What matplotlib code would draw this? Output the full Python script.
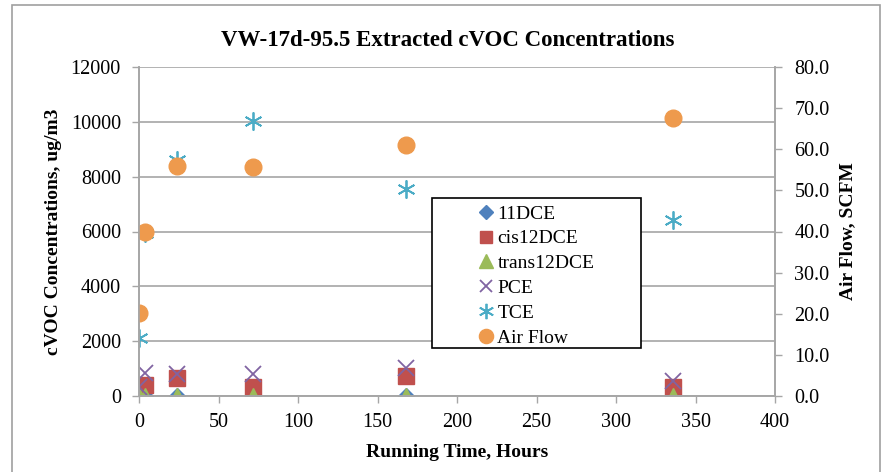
import matplotlib
matplotlib.use("Agg")
import matplotlib.pyplot as plt
from matplotlib.patches import Rectangle

plt.rcParams["font.family"] = ["Liberation Serif", "DejaVu Serif"]

hours = [0, 4, 24, 72, 168, 336]
dce11 = [10, 10, 10, 10, 10, 10]
cis12dce = [250, 400, 650, 320, 730, 340]
trans12dce = [10, 10, 10, 10, 10, 10]
pce = [330, 840, 800, 800, 1020, 550]
tce = [2100, 5950, 8600, 10030, 7550, 6420]
air_flow = [20.2, 39.9, 55.9, 55.7, 61.0, 67.6]

W, H = 882, 472
fig = plt.figure(figsize=(W / 100, H / 100), dpi=100)
ax = fig.add_axes([139 / W, 1 - 396 / H, (775 - 139) / W, (396 - 67) / H])
ax2 = ax.twinx()

grid_c = "#a6a6a6"

ax.plot(hours, dce11, ls="none", marker="D", ms=8, color="#4F81BD", label="11DCE")
ax.plot(hours, cis12dce, ls="none", marker="s", ms=11, color="#C0504D", label="cis12DCE")
ax.plot(hours, trans12dce, ls="none", marker="^", ms=12, color="#9BBB59", label="trans12DCE")
ax.plot(hours, pce, ls="none", marker="x", ms=11, mew=1.3, color="#8064A2", label="PCE")
ax.plot(hours, tce, ls="none", marker=(6, 2, 0), ms=13, mew=1.3, color="#4BACC6", label="TCE")
ax2.plot(hours, air_flow, ls="none", marker="o", ms=12, color="#EE9A4D", label="Air Flow")

ax.set_xlim(0, 400)
ax.set_ylim(0, 12000)
ax.set_xticks(range(0, 401, 50))
ax.set_yticks(range(0, 12001, 2000))
ax2.set_ylim(0, 80)
ax2.set_yticks(range(0, 81, 10))
ax2.set_yticklabels([f"{v:.1f}" for v in range(0, 81, 10)])

ax.yaxis.grid(True, color=grid_c, lw=1.2)
ax.set_axisbelow(True)
for a in (ax, ax2):
    a.tick_params(labelsize=14.5, color=grid_c, length=5, width=1)
    a.spines["top"].set_visible(False)
    for s in a.spines.values():
        s.set_color(grid_c)
        s.set_linewidth(1.2)
ax.tick_params(axis="x", pad=7)
ax.tick_params(axis="y", pad=8)
ax2.tick_params(axis="y", pad=9)

ax.set_xlabel("Running Time, Hours", fontsize=14, fontweight="bold", labelpad=9)
ax.set_ylabel("cVOC Concentrations, ug/m3", fontsize=14, fontweight="bold", labelpad=6)
ax2.set_ylabel("Air Flow, SCFM", fontsize=14, fontweight="bold", labelpad=7)
fig.text(0.508, 1 - 40 / H, "VW-17d-95.5 Extracted cVOC Concentrations",
         ha="center", va="center", fontsize=16.5, fontweight="bold")

# legend box with white fill
box = Rectangle((432 / W, 1 - 348 / H), (641 - 432) / W, (348 - 198) / H,
                transform=fig.transFigure, facecolor="white", edgecolor="black",
                lw=1.2, zorder=4)
ax2.add_patch(box)
handles = ax.get_lines() + ax2.get_lines()
leg = ax2.legend(handles=handles, loc="upper left",
                 bbox_to_anchor=(476 / W, 1 - 205 / H), bbox_transform=fig.transFigure,
                 frameon=False, fontsize=14, borderpad=0, borderaxespad=0,
                 handlelength=1.0, handletextpad=0.1, labelspacing=0.37,
                 markerscale=0.85)
leg.set_zorder(5)

# outer chart border
fig.patches.append(Rectangle((12 / W, -0.05), (880 - 12) / W, 1 - 5 / H + 0.05,
                             transform=fig.transFigure, fill=False,
                             edgecolor="#a0a0a0", lw=1.2))

fig.savefig("out.png", dpi=100)
